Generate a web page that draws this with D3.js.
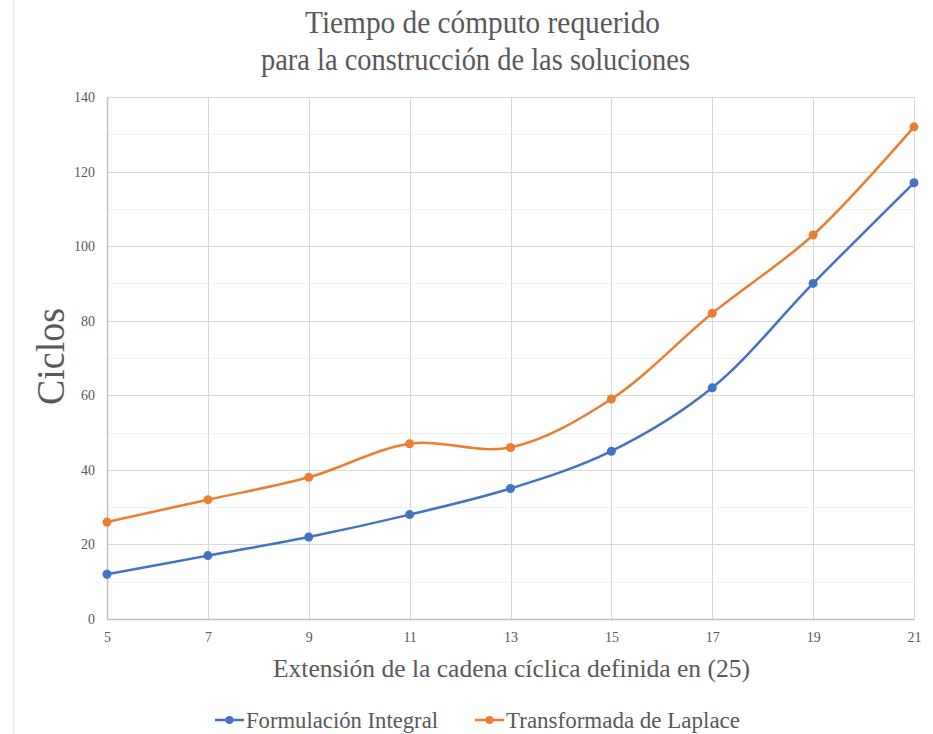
<!DOCTYPE html>
<html><head><meta charset="utf-8">
<script src="https://cdn.jsdelivr.net/npm/d3@7"></script>
<style>body{margin:0;background:#fff}svg{display:block}text{font-family:"Liberation Serif","Times New Roman",serif;fill:#595959}</style>
</head><body>
<svg id="c" width="933" height="734"></svg>
<script>
const xValues = [5, 7, 9, 11, 13, 15, 17, 19, 21];
const formulacionIntegral = [12, 17, 22, 28, 35, 45, 62, 90, 117];
const transformadaLaplace = [26, 32, 38, 47, 46, 59, 82, 103, 132];
const yTicks = [0, 20, 40, 60, 80, 100, 120, 140];
const seriesNames = ["Formulación Integral", "Transformada de Laplace"];
const colors = ["#4472C4", "#ED7D31"];

const svg = d3.select("#c");
const L = 107, R = 914, T = 97, B = 619;
const x = d3.scaleLinear().domain([5, 21]).range([L, R]);
const y = d3.scaleLinear().domain([0, 140]).range([B, T]);

svg.append("line").attr("x1", 13.5).attr("x2", 13.5).attr("y1", 0).attr("y2", 734).attr("stroke", "#e8e8e8").attr("stroke-width", 1.5);

const minor = d3.range(10, 141, 20);
svg.append("g").selectAll("line").data(minor).join("line")
  .attr("x1", L).attr("x2", R).attr("y1", d => Math.round(y(d)) + 0.5).attr("y2", d => Math.round(y(d)) + 0.5)
  .attr("stroke", "#f2f2f2").attr("stroke-width", 1);
svg.append("g").selectAll("line").data(yTicks.slice(1)).join("line")
  .attr("x1", L).attr("x2", R).attr("y1", d => Math.round(y(d)) + 0.5).attr("y2", d => Math.round(y(d)) + 0.5)
  .attr("stroke", "#d9d9d9").attr("stroke-width", 1);
svg.append("g").selectAll("line").data(xValues.slice(1)).join("line")
  .attr("x1", d => Math.round(x(d)) + 0.5).attr("x2", d => Math.round(x(d)) + 0.5).attr("y1", T).attr("y2", B)
  .attr("stroke", "#d9d9d9").attr("stroke-width", 1);

const yAxis = d3.axisLeft(y).tickValues(yTicks).tickSize(0).tickPadding(12);
const gy = svg.append("g").attr("transform", `translate(${L},0)`).call(yAxis);
gy.select(".domain").attr("stroke", "#bfbfbf").attr("stroke-width", 1.5);
gy.selectAll("text").style("font-size", "14px").attr("fill", "#595959").style("font-family", '"Liberation Serif",serif');

const xAxis = d3.axisBottom(x).tickValues(xValues).tickSize(0).tickPadding(13);
const gx = svg.append("g").attr("transform", `translate(0,${B})`).call(xAxis);
gx.select(".domain").attr("stroke", "#bfbfbf").attr("stroke-width", 1.5);
gx.selectAll("text").style("font-size", "14px").attr("fill", "#595959").style("font-family", '"Liberation Serif",serif');

const line = d3.line().x(d => x(d[0])).y(d => y(d[1])).curve(d3.curveCatmullRom.alpha(0.5));
[formulacionIntegral, transformadaLaplace].forEach((vals, i) => {
  const pts = xValues.map((v, j) => [v, vals[j]]);
  svg.append("path").datum(pts).attr("d", line).attr("fill", "none").attr("stroke", colors[i]).attr("stroke-width", 2.5);
  svg.append("g").selectAll("circle").data(pts).join("circle")
    .attr("cx", d => x(d[0])).attr("cy", d => y(d[1])).attr("r", 4.5).attr("fill", colors[i]);
});

function txt(xp, yp, size, len, s) {
  return svg.append("text").attr("x", xp).attr("y", yp)
    .style("font-size", size + "px").attr("textLength", len).attr("lengthAdjust", "spacingAndGlyphs").text(s);
}
txt(305, 33, 32, 355, "Tiempo de cómputo requerido");
txt(261, 70, 32, 429, "para la construcción de las soluciones");
txt(273, 677, 26, 477, "Extensión de la cadena cíclica definida en (25)");
svg.append("text").attr("transform", "translate(64,405) rotate(-90)").style("font-size", "39px")
  .attr("textLength", 97).attr("lengthAdjust", "spacingAndGlyphs").text("Ciclos");

const legX = [215, 475];
const legLen = [192, 234];
seriesNames.forEach((n, i) => {
  const g = svg.append("g").attr("transform", `translate(${legX[i]},720)`);
  g.append("line").attr("x1", 0).attr("x2", 29).attr("y1", 0).attr("y2", 0).attr("stroke", colors[i]).attr("stroke-width", 2.5);
  g.append("circle").attr("cx", 14.5).attr("cy", 0).attr("r", 4).attr("fill", colors[i]);
  g.append("text").attr("x", 31).attr("y", 8).style("font-size", "24px")
    .attr("textLength", legLen[i]).attr("lengthAdjust", "spacingAndGlyphs").text(n);
});
</script>
</body></html>
